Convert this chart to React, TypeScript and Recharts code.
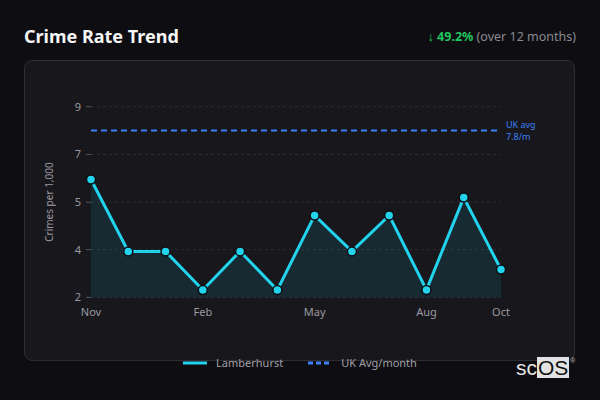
import {
  ComposedChart,
  Area,
  Line,
  XAxis,
  YAxis,
  CartesianGrid,
  Legend,
} from "recharts";

const months = ["Nov", "Dec", "Jan", "Feb", "Mar", "Apr", "May", "Jun", "Jul", "Aug", "Sep", "Oct"];
const rates = [6.1, 3.6, 3.6, 2.26, 3.6, 2.26, 4.85, 3.6, 4.85, 2.26, 5.47, 2.97];
const ukAvg = 7.8;
const xTicks = ["Nov", "Feb", "May", "Aug", "Oct"];
const yTickValues = [2, 3.66, 5.31, 6.97, 8.63];
const yTickLabels = ["2", "4", "5", "7", "9"];

const CYAN = "#22d3ee";
const BLUE = "#3b82f6";
const FONT = "'Noto Sans', 'Open Sans', sans-serif";

const data = months.map((m, i) => ({ month: m, rate: rates[i], ukAvg }));

function UkAvgLabel(props: any) {
  if (props.index !== months.length - 1) return null;
  const x = props.x + 5;
  return (
    <text x={x} y={props.y} fill={BLUE} fontSize={9} fontFamily={FONT}>
      <tspan x={x} dy={-3}>UK avg</tspan>
      <tspan x={x} dy={12}>7.8/m</tspan>
    </text>
  );
}

function LegendContent({ payload }: any) {
  return (
    <div style={{ display: "flex", justifyContent: "center", gap: 25, fontFamily: FONT }}>
      {(payload ?? []).map((entry: any) => (
        <div key={entry.value} style={{ display: "flex", alignItems: "center", gap: 9 }}>
          <svg width={24} height={4}>
            <line
              x1={0}
              y1={2}
              x2={24}
              y2={2}
              stroke={entry.color}
              strokeWidth={3}
              strokeDasharray={entry.payload?.strokeDasharray ? "5 3" : undefined}
            />
          </svg>
          <span style={{ color: "#a0a0a6", fontSize: 11 }}>{entry.value}</span>
        </div>
      ))}
    </div>
  );
}

export default function App() {
  return (
    <div
      style={{
        position: "fixed",
        left: 0,
        top: 0,
        width: 600,
        height: 400,
        background: "#0e0d12",
        fontFamily: FONT,
        overflow: "hidden",
      }}
    >
      <div
        style={{
          position: "absolute",
          left: 24,
          top: 25,
          fontSize: 18,
          lineHeight: "22px",
          fontWeight: 700,
          color: "#f5f5f5",
        }}
      >
        Crime Rate Trend
      </div>
      <div
        style={{
          position: "absolute",
          right: 24,
          top: 28,
          fontSize: 12.5,
          lineHeight: "18px",
          color: "#8a8a90",
        }}
      >
        <span style={{ color: "#22c55e", fontWeight: 700 }}>↓ 49.2%</span> (over 12 months)
      </div>
      <div
        style={{
          position: "absolute",
          left: 24,
          top: 60,
          width: 549,
          height: 299,
          background: "#18171c",
          border: "1px solid #2e2d33",
          borderRadius: 8,
        }}
      />
      <div style={{ position: "absolute", left: 0, top: 0 }}>
        <ComposedChart
          width={600}
          height={400}
          data={data}
          margin={{ top: 106.7, right: 99, left: 31, bottom: 30 }}
        >
          <CartesianGrid vertical={false} stroke="#2c2c32" strokeDasharray="3 3" />
          <XAxis
            dataKey="month"
            ticks={xTicks}
            interval={0}
            axisLine={false}
            tickLine={false}
            height={57.6}
            tickMargin={5}
            tick={{ fill: "#9a9aa0", fontSize: 11, fontFamily: FONT }}
          />
          <YAxis
            width={60}
            domain={[2, 8.63]}
            ticks={yTickValues}
            tickFormatter={(v: number) => yTickLabels[yTickValues.indexOf(v)] ?? ""}
            axisLine={false}
            tickSize={5}
            tickMargin={5}
            tickLine={{ stroke: "#55555c" }}
            tick={{ fill: "#9a9aa0", fontSize: 11, fontFamily: FONT }}
            label={({ viewBox }: any) => (
              <text
                x={viewBox.x + 19}
                y={viewBox.y + viewBox.height / 2}
                transform={`rotate(-90, ${viewBox.x + 19}, ${viewBox.y + viewBox.height / 2})`}
                textAnchor="middle"
                dominantBaseline="middle"
                fill="#9a9aa0"
                fontSize={10}
                fontFamily={FONT}
              >
                Crimes per 1,000
              </text>
            )}
          />
          <Legend
            verticalAlign="bottom"
            align="center"
            wrapperStyle={{ left: 0, width: 600 }}
            content={<LegendContent />}
          />
          <Area
            type="linear"
            dataKey="rate"
            name="Lamberhurst"
            stroke={CYAN}
            strokeWidth={3}
            fill={CYAN}
            fillOpacity={0.1}
            legendType="plainline"
            dot={{ r: 4.5, fill: CYAN, fillOpacity: 1, stroke: "#0e0d12", strokeWidth: 1.5 }}
            activeDot={false}
            isAnimationActive={false}
          />
          <Line
            type="linear"
            dataKey="ukAvg"
            name="UK Avg/month"
            stroke={BLUE}
            strokeWidth={2}
            strokeDasharray="6 4"
            dot={false}
            activeDot={false}
            legendType="plainline"
            label={<UkAvgLabel />}
            isAnimationActive={false}
          />
        </ComposedChart>
      </div>
      <div
        style={{
          position: "absolute",
          left: 516,
          top: 357,
          height: 21,
          display: "flex",
          alignItems: "stretch",
          fontFamily: "'Liberation Sans', Arial, sans-serif",
          fontSize: 21,
          lineHeight: "21px",
        }}
      >
        <span style={{ color: "#e6e6e6" }}>sc</span>
        <span style={{ background: "#e2e2e2", color: "#111", padding: "0 1px" }}>OS</span>
        <span style={{ color: "#bbb", fontSize: 7, lineHeight: "8px", marginLeft: 1 }}>®</span>
      </div>
    </div>
  );
}
